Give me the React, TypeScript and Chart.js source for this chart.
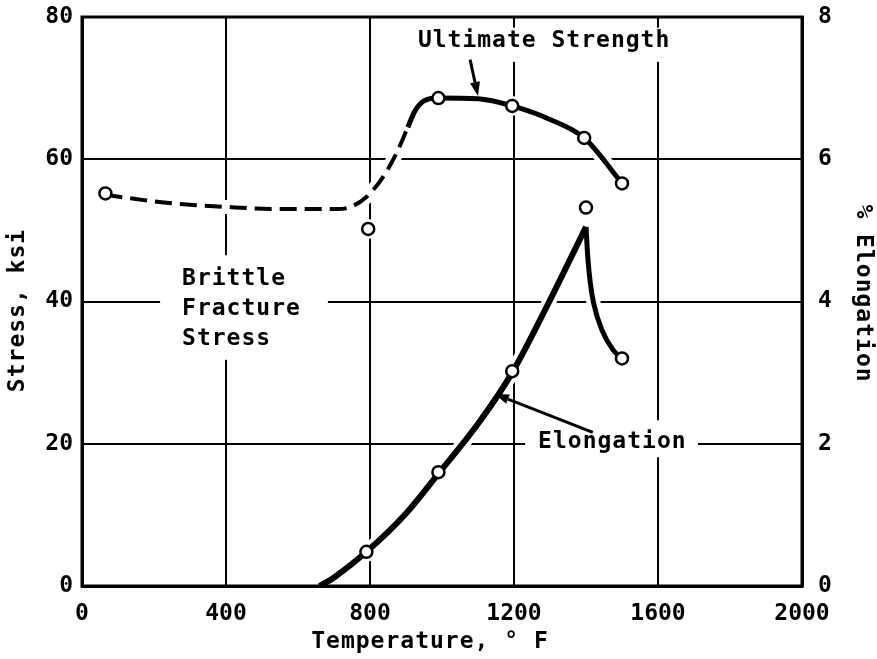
import React, { useEffect, useRef } from 'react';
import { Chart, registerables } from 'chart.js';

Chart.register(...registerables);

// ---- data ----
const brittleTemp = [65, 150, 250, 400, 550, 700, 740, 790, 836, 875, 905];
const brittleStress = [55, 54.4, 53.8, 53.3, 53, 53, 53.2, 54.7, 57.5, 61, 64.5];
const ultimateTemp = [905, 925, 950, 990, 1100, 1195, 1300, 1395, 1500];
const ultimateStress = [64.5, 66.8, 68.2, 68.6, 68.5, 67.5, 65.6, 63, 56.6];
const stressMarkTemp = [65, 795, 990, 1195, 1395, 1500];
const stressMarkValue = [55.2, 50.2, 68.6, 67.5, 63, 56.6];
const elongRiseTemp = [660, 700, 790, 900, 990, 1100, 1195, 1300, 1400];
const elongRiseValue = [0, 0.12, 0.48, 1.02, 1.58, 2.28, 3.0, 4.02, 5.05];
const elongFallTemp = [1400, 1405, 1412, 1421, 1444, 1475, 1500];
const elongFallValue = [5.05, 4.62, 4.26, 3.98, 3.6, 3.32, 3.2];
const elongMarkTemp = [790, 990, 1195, 1400, 1500];
const elongMarkValue = [0.48, 1.6, 3.02, 5.32, 3.2];

const xTitle = 'Temperature, ° F';
const yTitle = 'Stress, ksi';
const y2Title = '% Elongation';

const FONT_FAMILY = '"DejaVu Sans Mono", "Liberation Mono", monospace';
const TEXT_FONT = `bold 23px ${FONT_FAMILY}`;

const pts = (xs: number[], ys: number[]) => xs.map((x, i) => ({ x, y: ys[i] }));

// annotation layout (in data units: temperature / stress)
const whiteBoxes = [
  { t0: 897, t1: 1667, s0: 78.5, s1: 73.7 },
  { t0: 217, t1: 683, s0: 46.5, s1: 31.8 },
  { t0: 1231, t1: 1711, s0: 23.3, s1: 18.1 },
];
const labels = [
  { text: 'Ultimate Strength', t: 933, s: 76.6 },
  { text: 'Brittle', t: 278, s: 43.2 },
  { text: 'Fracture', t: 278, s: 38.9 },
  { text: 'Stress', t: 278, s: 34.7 },
  { text: 'Elongation', t: 1267, s: 20.2 },
];
const arrows = [
  { t0: 1078, s0: 74.0, t1: 1100, s1: 68.9 },
  { t0: 1419, s0: 21.6, t1: 1147, s1: 27.0 },
];

const annotPlugin = {
  id: 'annot',
  beforeDatasetsDraw(chart: any) {
    const { ctx, scales } = chart;
    const x = scales.x, y = scales.y;
    ctx.save();
    ctx.fillStyle = '#ffffff';
    for (const b of whiteBoxes) {
      const x0 = x.getPixelForValue(b.t0), x1 = x.getPixelForValue(b.t1);
      const y0 = y.getPixelForValue(b.s0), y1 = y.getPixelForValue(b.s1);
      ctx.fillRect(x0, y0, x1 - x0, y1 - y0);
    }
    ctx.restore();
  },
  afterDatasetsDraw(chart: any) {
    const { ctx, scales, chartArea } = chart;
    const x = scales.x, y = scales.y;
    ctx.save();
    ctx.strokeStyle = '#000';
    ctx.lineWidth = 3;
    ctx.strokeRect(chartArea.left, chartArea.top, chartArea.right - chartArea.left, chartArea.bottom - chartArea.top);
    ctx.fillStyle = '#000';
    ctx.font = TEXT_FONT;
    try { (ctx as any).letterSpacing = '1px'; } catch (e) { /* ignore */ }
    ctx.textAlign = 'left';
    ctx.textBaseline = 'middle';
    for (const l of labels) {
      ctx.fillText(l.text, x.getPixelForValue(l.t), y.getPixelForValue(l.s));
    }
    for (const a of arrows) {
      const x0 = x.getPixelForValue(a.t0), y0 = y.getPixelForValue(a.s0);
      const x1 = x.getPixelForValue(a.t1), y1 = y.getPixelForValue(a.s1);
      const ang = Math.atan2(y1 - y0, x1 - x0);
      const hl = 14, hw = 5;
      const bx = x1 - hl * Math.cos(ang), by = y1 - hl * Math.sin(ang);
      ctx.strokeStyle = '#000';
      ctx.lineWidth = 3;
      ctx.beginPath();
      ctx.moveTo(x0, y0);
      ctx.lineTo(bx, by);
      ctx.stroke();
      ctx.beginPath();
      ctx.moveTo(x1, y1);
      ctx.lineTo(bx + hw * Math.sin(ang), by - hw * Math.cos(ang));
      ctx.lineTo(bx - hw * Math.sin(ang), by + hw * Math.cos(ang));
      ctx.closePath();
      ctx.fill();
    }
    const midX = (chartArea.left + chartArea.right) / 2;
    const midY = (chartArea.top + chartArea.bottom) / 2;
    ctx.textAlign = 'center';
    ctx.textBaseline = 'middle';
    ctx.fillText(xTitle, midX - 12, chartArea.bottom + 56);
    ctx.save();
    ctx.translate(chartArea.left - 64, midY + 9);
    ctx.rotate(-Math.PI / 2);
    ctx.fillText(yTitle, 0, 0);
    ctx.restore();
    ctx.save();
    ctx.translate(chartArea.right + 61, midY - 8);
    ctx.rotate(Math.PI / 2);
    ctx.fillText(y2Title, 0, 0);
    ctx.restore();
    ctx.restore();
  },
};

const HALO = 14;

export default function App() {
  const ref = useRef<HTMLCanvasElement | null>(null);
  useEffect(() => {
    if (!ref.current) return;
    const lineBase = { pointRadius: 0, cubicInterpolationMode: 'monotone' as const, fill: false };
    const markerBase = {
      showLine: false,
      pointRadius: 6,
      pointBorderWidth: 2.5,
      pointBackgroundColor: '#ffffff',
      pointBorderColor: '#000000',
      borderColor: '#000000',
    };
    const haloMarker = {
      showLine: false,
      pointRadius: 10,
      pointBorderWidth: 0,
      pointBackgroundColor: '#ffffff',
      pointBorderColor: '#ffffff',
      order: 10,
    };
    const tickFont = { family: FONT_FAMILY, weight: 'bold' as const, size: 23 };
    const fmt = (v: any) => String(v);
    const chart = new Chart(ref.current, {
      type: 'line',
      data: {
        datasets: [
          { ...lineBase, data: pts(brittleTemp, brittleStress), borderColor: '#fff', borderWidth: HALO, order: 10, yAxisID: 'y' },
          { ...lineBase, data: pts(ultimateTemp, ultimateStress), borderColor: '#fff', borderWidth: HALO, order: 10, yAxisID: 'y' },
          { ...lineBase, data: pts(elongRiseTemp, elongRiseValue), borderColor: '#fff', borderWidth: HALO, order: 10, yAxisID: 'y2' },
          { ...lineBase, data: pts(elongFallTemp, elongFallValue), borderColor: '#fff', borderWidth: HALO, order: 10, yAxisID: 'y2' },
          { ...haloMarker, data: pts(stressMarkTemp, stressMarkValue), yAxisID: 'y' },
          { ...haloMarker, data: pts(elongMarkTemp, elongMarkValue), yAxisID: 'y2' },
          { ...lineBase, label: 'Brittle Fracture Stress', data: pts(brittleTemp, brittleStress), borderColor: '#000', borderWidth: 4, borderDash: [17, 8], order: 2, yAxisID: 'y' },
          { ...lineBase, label: 'Ultimate Strength', data: pts(ultimateTemp, ultimateStress), borderColor: '#000', borderWidth: 5, order: 2, yAxisID: 'y' },
          { ...lineBase, label: 'Elongation', data: pts(elongRiseTemp, elongRiseValue), borderColor: '#000', borderWidth: 6, order: 2, yAxisID: 'y2' },
          { ...lineBase, label: 'Elongation (fall)', data: pts(elongFallTemp, elongFallValue), borderColor: '#000', borderWidth: 5, order: 2, yAxisID: 'y2' },
          { ...markerBase, data: pts(stressMarkTemp, stressMarkValue), order: 0, yAxisID: 'y' },
          { ...markerBase, data: pts(elongMarkTemp, elongMarkValue), order: 0, yAxisID: 'y2' },
        ] as any,
      },
      options: {
        animation: false,
        responsive: false,
        devicePixelRatio: 1,
        layout: { padding: { top: 17, left: 0, right: 0, bottom: 0 } },
        plugins: { legend: { display: false }, tooltip: { enabled: false } },
        scales: {
          x: {
            type: 'linear',
            min: 0,
            max: 2000,
            ticks: { stepSize: 400, color: '#000', font: tickFont, padding: 14, callback: fmt },
            grid: { color: '#000', lineWidth: 2, drawTicks: false },
            border: { color: '#000', width: 3 },
            afterFit: (s: any) => { s.height = 73; s.paddingLeft = 0; s.paddingRight = 0; },
          },
          y: {
            type: 'linear',
            position: 'left',
            min: 0,
            max: 80,
            ticks: { stepSize: 20, color: '#000', font: tickFont, padding: 9, callback: fmt },
            grid: { color: '#000', lineWidth: 2, drawTicks: false },
            border: { color: '#000', width: 3 },
            afterFit: (s: any) => { s.width = 82; s.paddingTop = 0; s.paddingBottom = 0; },
          },
          y2: {
            type: 'linear',
            position: 'right',
            min: 0,
            max: 8,
            ticks: { stepSize: 2, color: '#000', font: tickFont, padding: 16, callback: fmt },
            grid: { drawOnChartArea: false, drawTicks: false },
            border: { color: '#000', width: 3 },
            afterFit: (s: any) => { s.width = 75; s.paddingTop = 0; s.paddingBottom = 0; },
          },
        },
      } as any,
      plugins: [annotPlugin],
    });
    return () => chart.destroy();
  }, []);
  return (
    <div style={{ position: 'fixed', left: 0, top: 0, width: 877, height: 659, background: '#fff' }}>
      <canvas ref={ref} width={877} height={659} style={{ display: 'block', width: 877, height: 659 }} />
    </div>
  );
}
